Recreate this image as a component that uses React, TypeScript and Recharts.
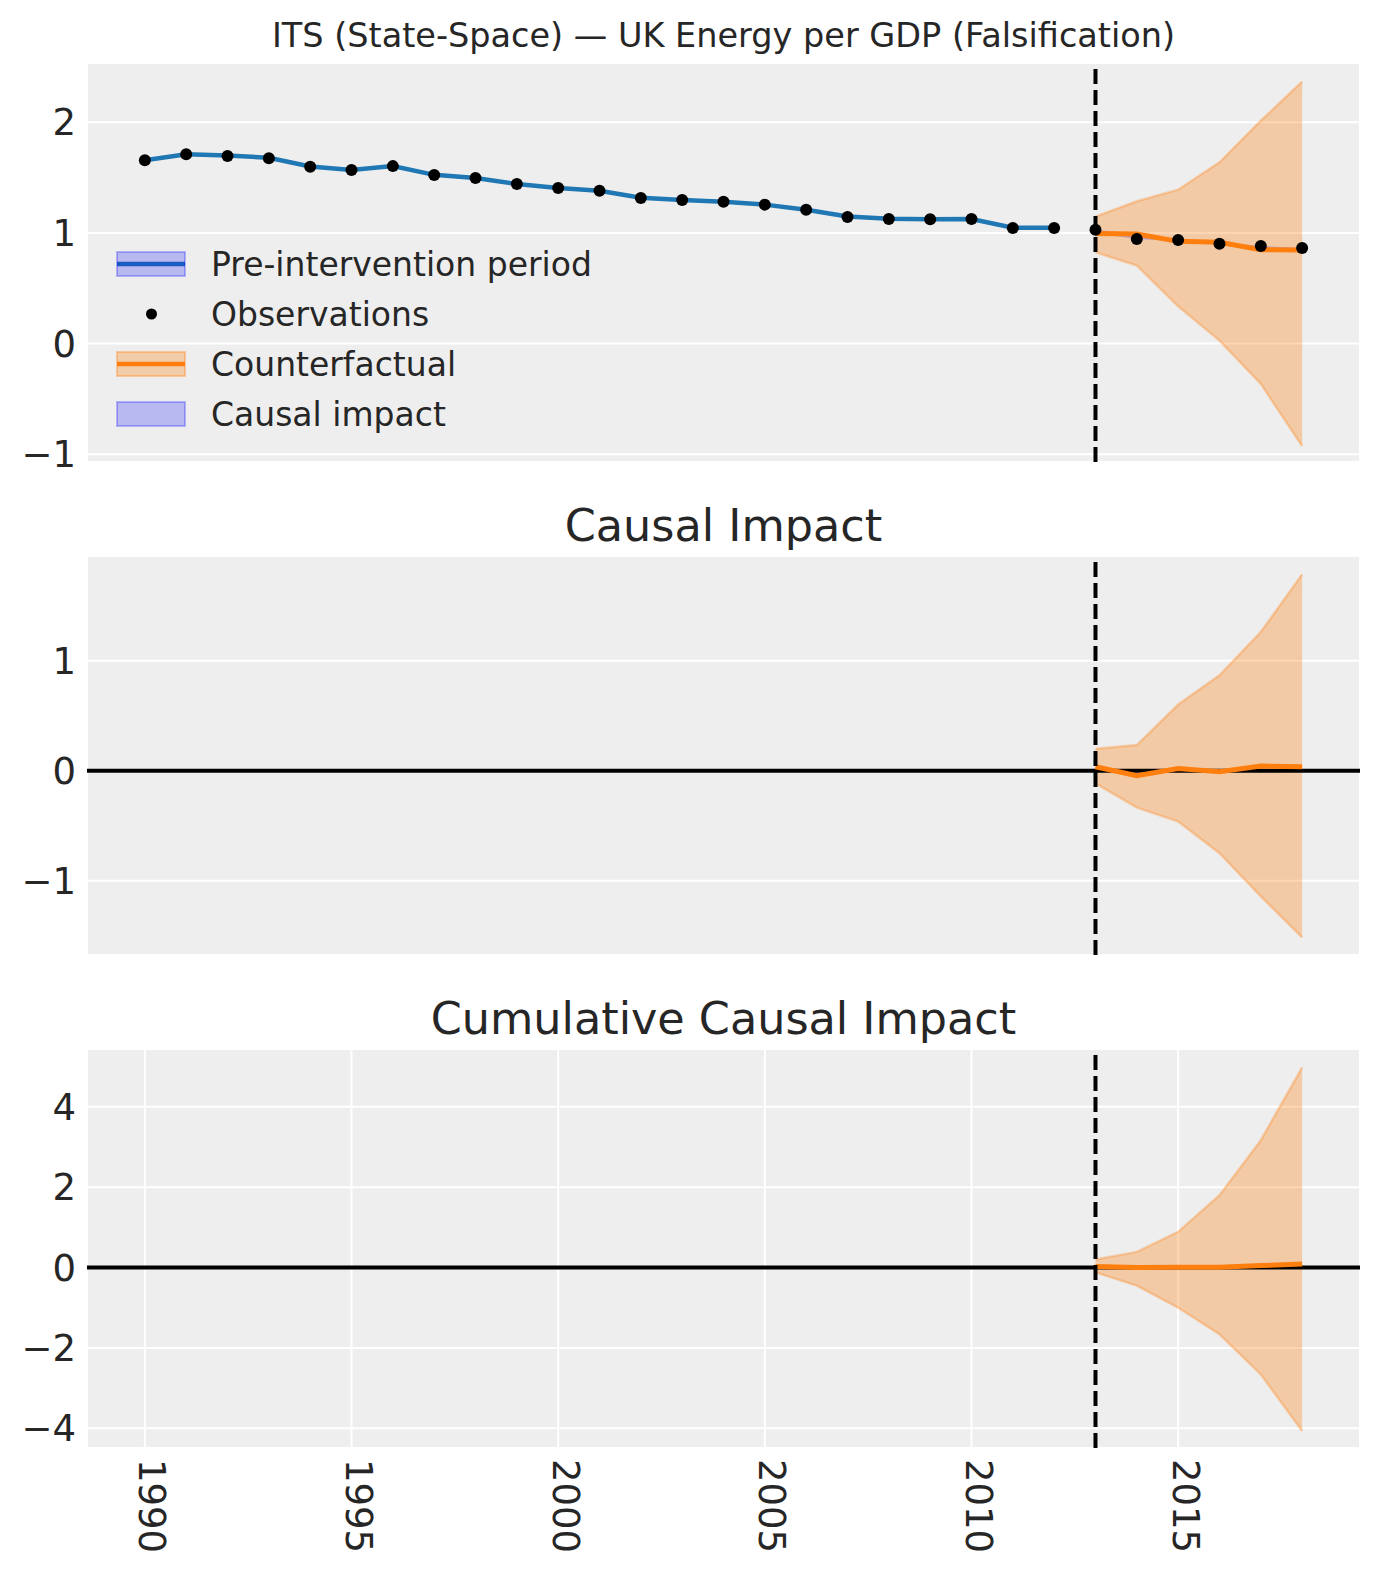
import React from "react";
import {
  ComposedChart,
  Line,
  Area,
  XAxis,
  YAxis,
  CartesianGrid,
  ReferenceLine,
} from "recharts";

// ---------- data ----------
const years = [
  1990, 1991, 1992, 1993, 1994, 1995, 1996, 1997, 1998, 1999, 2000, 2001, 2002,
  2003, 2004, 2005, 2006, 2007, 2008, 2009, 2010, 2011, 2012, 2013, 2014, 2015,
  2016, 2017, 2018,
];
const observed = [
  1.657, 1.712, 1.695, 1.676, 1.598, 1.568, 1.604, 1.523, 1.496, 1.443, 1.407,
  1.381, 1.316, 1.298, 1.283, 1.256, 1.210, 1.145, 1.126, 1.123, 1.126, 1.045,
  1.045, 1.030, 0.946, 0.937, 0.903, 0.882, 0.864,
];
const preYears = [
  1990, 1991, 1992, 1993, 1994, 1995, 1996, 1997, 1998, 1999, 2000, 2001, 2002,
  2003, 2004, 2005, 2006, 2007, 2008, 2009, 2010, 2011, 2012,
];
const preFit = [
  1.657, 1.712, 1.700, 1.680, 1.600, 1.568, 1.604, 1.525, 1.496, 1.443, 1.407,
  1.381, 1.318, 1.298, 1.283, 1.256, 1.210, 1.148, 1.128, 1.125, 1.126, 1.047,
  1.048,
];
const postYears = [2013, 2014, 2015, 2016, 2017, 2018];
const cfMean = [0.996, 0.991, 0.924, 0.915, 0.849, 0.846];
const cfUpper = [1.148, 1.286, 1.391, 1.638, 2.014, 2.368];
const cfLower = [0.825, 0.705, 0.337, 0.027, -0.364, -0.925];

const impactMean = [0.036, -0.045, 0.021, -0.009, 0.043, 0.036];
const impactUpper = [0.2, 0.233, 0.602, 0.868, 1.262, 1.785];
const impactLower = [-0.115, -0.335, -0.462, -0.75, -1.143, -1.515];

const cumMean = [0.03, 0.0, 0.01, 0.01, 0.05, 0.09];
const cumUpper = [0.2, 0.39, 0.89, 1.8, 3.17, 4.98];
const cumLower = [-0.12, -0.45, -1.0, -1.66, -2.66, -4.07];

const xTicks = [1990, 1995, 2000, 2005, 2010, 2015];
const yTicks1 = [-1, 0, 1, 2];
const yTicks2 = [-1, 0, 1];
const yTicks3 = [-4, -2, 0, 2, 4];
const interventionYear = 2013;

const mainTitle = "ITS (State-Space) \u2014 UK Energy per GDP (Falsification)";
const title2 = "Causal Impact";
const title3 = "Cumulative Causal Impact";
const legendLabels = [
  "Pre-intervention period",
  "Observations",
  "Counterfactual",
  "Causal impact",
];

// ---------- derived tables ----------
const rows1 = years.map((yr, i) => {
  const p = preYears.indexOf(yr);
  const j = postYears.indexOf(yr);
  return {
    year: yr,
    obs: observed[i],
    fit: p >= 0 ? preFit[p] : undefined,
    cf: j >= 0 ? cfMean[j] : undefined,
    band: j >= 0 ? [cfLower[j], cfUpper[j]] : undefined,
    gap: j >= 0 ? [Math.min(observed[i], cfMean[j]), Math.max(observed[i], cfMean[j])] : undefined,
  };
});
const rows2 = postYears.map((yr, j) => ({
  year: yr,
  mean: impactMean[j],
  band: [impactLower[j], impactUpper[j]],
}));
const rows3 = postYears.map((yr, j) => ({
  year: yr,
  mean: cumMean[j],
  band: [cumLower[j], cumUpper[j]],
}));

// ---------- styles ----------
const FONT = "DejaVu Sans";
const TXT = "#262626";
const BG = "#eeeeee";
const BLUE = "#1f77b4";
const ORANGE = "#ff7f0e";
const W = 1380;
const XDOMAIN: [number, number] = [1988.6, 2019.4];

const fmt = (v: number) => (v < 0 ? "\u2212" + Math.abs(v) : String(v));

const yAxisProps = {
  width: 87,
  axisLine: false,
  tickLine: false,
  tickSize: 0,
  tickMargin: 11,
  tickFormatter: fmt,
  tick: { fill: TXT, fontSize: 37, fontFamily: FONT },
  interval: 0 as const,
  allowDataOverflow: true,
};

const BottomTick = (props: any) => {
  const { x, y, payload } = props;
  return (
    <text
      transform={`translate(${x + 7}, ${y + 11}) rotate(90)`}
      textAnchor="start"
      dominantBaseline="central"
      fill={TXT}
      fontSize={37}
      fontFamily={FONT}
    >
      {payload.value}
    </text>
  );
};

const Band = ({ dataKey }: { dataKey: string }) => (
  <Area
    type="linear"
    dataKey={dataKey}
    fill={ORANGE}
    fillOpacity={0.32}
    stroke={ORANGE}
    strokeOpacity={0.3}
    strokeWidth={2.5}
    dot={false}
    activeDot={false}
    isAnimationActive={false}
  />
);

const Panel1 = () => (
  <ComposedChart
    width={W}
    height={490}
    data={rows1}
    margin={{ top: 63, right: 20, bottom: 28, left: 0 }}
  >
    <CartesianGrid fill={BG} stroke="#ffffff" strokeWidth={2} />
    <XAxis
      dataKey="year"
      type="number"
      domain={XDOMAIN}
      ticks={xTicks}
      allowDataOverflow
      tick={false}
      axisLine={false}
      tickLine={false}
      height={0}
    />
    <YAxis {...yAxisProps} domain={[-1.07, 2.536]} ticks={yTicks1} />
    <Band dataKey="band" />
    <Area
      type="linear"
      dataKey="gap"
      fill="#0000ff"
      fillOpacity={0.22}
      stroke="none"
      dot={false}
      activeDot={false}
      isAnimationActive={false}
    />
    <Line
      type="linear"
      dataKey="fit"
      stroke={BLUE}
      strokeWidth={4.5}
      dot={false}
      activeDot={false}
      isAnimationActive={false}
    />
    <Line
      type="linear"
      dataKey="cf"
      stroke={ORANGE}
      strokeWidth={5}
      dot={false}
      activeDot={false}
      isAnimationActive={false}
    />
    <ReferenceLine
      x={interventionYear}
      stroke="#000"
      strokeWidth={4}
      strokeDasharray="15 6"
    />
    <Line
      type="linear"
      dataKey="obs"
      stroke="none"
      dot={{ r: 6, fill: "#000", stroke: "none" }}
      activeDot={false}
      isAnimationActive={false}
    />
  </ComposedChart>
);

const Panel2 = () => (
  <ComposedChart
    width={W}
    height={490}
    data={rows2}
    margin={{ top: 86, right: 20, bottom: 5, left: 0 }}
  >
    <CartesianGrid fill={BG} stroke="#ffffff" strokeWidth={2} />
    <XAxis
      dataKey="year"
      type="number"
      domain={XDOMAIN}
      ticks={xTicks}
      allowDataOverflow
      tick={false}
      axisLine={false}
      tickLine={false}
      height={0}
    />
    <YAxis {...yAxisProps} domain={[-1.675, 1.952]} ticks={yTicks2} />
    <Band dataKey="band" />
    <ReferenceLine y={0} stroke="#000" strokeWidth={4} />
    <Line
      type="linear"
      dataKey="mean"
      stroke={ORANGE}
      strokeWidth={5}
      dot={false}
      activeDot={false}
      isAnimationActive={false}
    />
    <ReferenceLine
      x={interventionYear}
      stroke="#000"
      strokeWidth={4}
      strokeDasharray="15 6"
    />
  </ComposedChart>
);

const Panel3 = () => (
  <ComposedChart
    width={W}
    height={618}
    data={rows3}
    margin={{ top: 89, right: 20, bottom: 0, left: 0 }}
  >
    <CartesianGrid fill={BG} stroke="#ffffff" strokeWidth={2} />
    <XAxis
      dataKey="year"
      type="number"
      domain={XDOMAIN}
      ticks={xTicks}
      allowDataOverflow
      interval={0}
      axisLine={false}
      tickLine={false}
      tickSize={0}
      tickMargin={0}
      height={130}
      tick={<BottomTick />}
    />
    <YAxis {...yAxisProps} domain={[-4.49, 5.44]} ticks={yTicks3} />
    <Band dataKey="band" />
    <ReferenceLine y={0} stroke="#000" strokeWidth={4} />
    <Line
      type="linear"
      dataKey="mean"
      stroke={ORANGE}
      strokeWidth={5}
      dot={false}
      activeDot={false}
      isAnimationActive={false}
    />
    <ReferenceLine
      x={interventionYear}
      stroke="#000"
      strokeWidth={4}
      strokeDasharray="15 6"
    />
  </ComposedChart>
);

const Overlay = () => {
  const rowY = [264, 314, 364, 414];
  return (
    <svg
      width={W}
      height={1578}
      style={{ position: "absolute", left: 0, top: 0, pointerEvents: "none" }}
    >
      <text x={723.5} y={46.5} textAnchor="middle" fill={TXT} fontSize={33.5} fontFamily={FONT}>
        {mainTitle}
      </text>
      <text x={723.5} y={541} textAnchor="middle" fill={TXT} fontSize={44.5} fontFamily={FONT}>
        {title2}
      </text>
      <text x={723.5} y={1034} textAnchor="middle" fill={TXT} fontSize={44.5} fontFamily={FONT}>
        {title3}
      </text>
      {/* legend */}
      <line x1={117} x2={185} y1={rowY[0]} y2={rowY[0]} stroke={BLUE} strokeWidth={4.5} />
      <rect x={117} y={rowY[0] - 12} width={68} height={24} fill="#0000ff" fillOpacity={0.22} stroke="#0000ff" strokeOpacity={0.25} strokeWidth={2} />
      <circle cx={151.5} cy={rowY[1]} r={5.5} fill="#000" />
      <line x1={117} x2={185} y1={rowY[2]} y2={rowY[2]} stroke={ORANGE} strokeWidth={4.5} />
      <rect x={117} y={rowY[2] - 12} width={68} height={24} fill={ORANGE} fillOpacity={0.3} stroke={ORANGE} strokeOpacity={0.35} strokeWidth={2} />
      <rect x={117} y={rowY[3] - 12} width={68} height={24} fill="#0000ff" fillOpacity={0.22} stroke="#0000ff" strokeOpacity={0.25} strokeWidth={2} />
      {legendLabels.map((t, i) => (
        <text key={t} x={211} y={rowY[i]} dy="0.36em" fill={TXT} fontSize={33} fontFamily={FONT}>
          {t}
        </text>
      ))}
    </svg>
  );
};

export default function App() {
  return (
    <div
      style={{
        position: "absolute",
        left: 0,
        top: 0,
        width: W,
        height: 1578,
        background: "#ffffff",
        overflow: "hidden",
      }}
    >
      <div style={{ position: "absolute", left: 0, top: 0 }}>
        <Panel1 />
      </div>
      <div style={{ position: "absolute", left: 0, top: 470 }}>
        <Panel2 />
      </div>
      <div style={{ position: "absolute", left: 0, top: 960 }}>
        <Panel3 />
      </div>
      <Overlay />
    </div>
  );
}
